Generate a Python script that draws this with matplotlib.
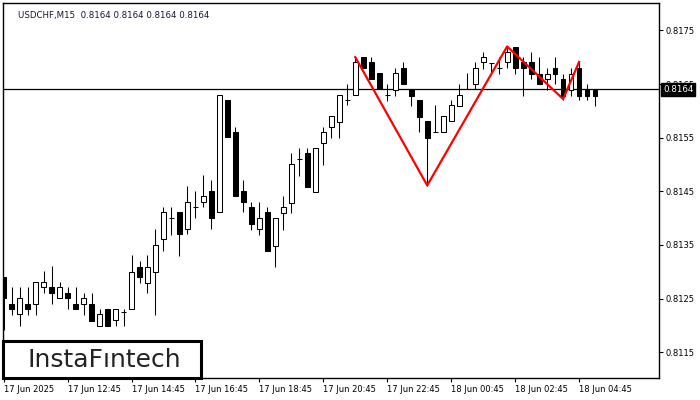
import numpy as np
import matplotlib.pyplot as plt
from matplotlib.patches import Rectangle

# USDCHF M15 candles
opens = [0.81290, 0.81240, 0.81221, 0.81240, 0.81240, 0.81271, 0.81271, 0.81251, 0.81260, 0.81240,
         0.81240, 0.81240, 0.81199, 0.81230, 0.81210, 0.81225, 0.81230, 0.81309, 0.81279, 0.81299,
         0.81361, 0.81400, 0.81411, 0.81380, 0.81421, 0.81430, 0.81451, 0.81411, 0.81620, 0.81561,
         0.81451, 0.81421, 0.81380, 0.81411, 0.81348, 0.81410, 0.81428, 0.81510, 0.81521, 0.81449,
         0.81540, 0.81570, 0.81579, 0.81620, 0.81630, 0.81701, 0.81691, 0.81671, 0.81630, 0.81639,
         0.81680, 0.81641, 0.81620, 0.81581, 0.81561, 0.81561, 0.81581, 0.81609, 0.81641, 0.81650,
         0.81691, 0.81689, 0.81680, 0.81691, 0.81719, 0.81691, 0.81691, 0.81669, 0.81660, 0.81680,
         0.81660, 0.81639, 0.81680, 0.81639, 0.81639]
highs = [0.81290, 0.81271, 0.81271, 0.81271, 0.81281, 0.81301, 0.81311, 0.81281, 0.81271, 0.81271,
         0.81260, 0.81260, 0.81230, 0.81230, 0.81230, 0.81230, 0.81331, 0.81320, 0.81331, 0.81380,
         0.81421, 0.81421, 0.81411, 0.81460, 0.81451, 0.81480, 0.81471, 0.81630, 0.81620, 0.81570,
         0.81471, 0.81430, 0.81430, 0.81421, 0.81400, 0.81441, 0.81521, 0.81531, 0.81531, 0.81531,
         0.81570, 0.81590, 0.81630, 0.81650, 0.81701, 0.81701, 0.81701, 0.81671, 0.81650, 0.81680,
         0.81691, 0.81641, 0.81620, 0.81581, 0.81611, 0.81590, 0.81620, 0.81650, 0.81671, 0.81691,
         0.81710, 0.81689, 0.81701, 0.81719, 0.81719, 0.81701, 0.81710, 0.81701, 0.81680, 0.81701,
         0.81669, 0.81680, 0.81691, 0.81650, 0.81639]
lows = [0.81191, 0.81219, 0.81199, 0.81219, 0.81219, 0.81260, 0.81240, 0.81251, 0.81230, 0.81230,
        0.81219, 0.81208, 0.81199, 0.81199, 0.81199, 0.81199, 0.81230, 0.81279, 0.81260, 0.81219,
        0.81339, 0.81368, 0.81329, 0.81370, 0.81400, 0.81421, 0.81380, 0.81411, 0.81551, 0.81441,
        0.81411, 0.81378, 0.81368, 0.81339, 0.81309, 0.81378, 0.81410, 0.81479, 0.81458, 0.81449,
        0.81499, 0.81549, 0.81549, 0.81611, 0.81630, 0.81680, 0.81660, 0.81641, 0.81618, 0.81628,
        0.81650, 0.81609, 0.81561, 0.81460, 0.81561, 0.81561, 0.81581, 0.81609, 0.81641, 0.81641,
        0.81678, 0.81669, 0.81669, 0.81680, 0.81669, 0.81628, 0.81660, 0.81650, 0.81639, 0.81650,
        0.81620, 0.81628, 0.81620, 0.81620, 0.81609]
closes = [0.81251, 0.81230, 0.81251, 0.81230, 0.81281, 0.81281, 0.81260, 0.81271, 0.81251, 0.81230,
          0.81251, 0.81208, 0.81221, 0.81199, 0.81230, 0.81225, 0.81299, 0.81290, 0.81309, 0.81350,
          0.81411, 0.81400, 0.81370, 0.81430, 0.81421, 0.81441, 0.81400, 0.81630, 0.81551, 0.81441,
          0.81430, 0.81389, 0.81400, 0.81339, 0.81400, 0.81421, 0.81501, 0.81510, 0.81458, 0.81531,
          0.81561, 0.81590, 0.81630, 0.81620, 0.81691, 0.81680, 0.81660, 0.81641, 0.81630, 0.81671,
          0.81650, 0.81628, 0.81589, 0.81549, 0.81561, 0.81590, 0.81611, 0.81630, 0.81641, 0.81680,
          0.81701, 0.81689, 0.81680, 0.81710, 0.81680, 0.81680, 0.81669, 0.81650, 0.81669, 0.81669,
          0.81628, 0.81669, 0.81628, 0.81628, 0.81628]

# double top pattern outline (bar index, price)
pattern_idx = [44, 53, 63, 70, 72]
pattern_px = [0.81700, 0.81461, 0.81720, 0.81622, 0.81691]

bid = 0.8164
ytick_vals = [0.8115, 0.8125, 0.8135, 0.8145, 0.8155, 0.8165, 0.8175]
xtick_idx = [0, 8, 16, 24, 32, 40, 48, 56, 64, 72]
xtick_labels = ['17 Jun 2025', '17 Jun 12:45', '17 Jun 14:45', '17 Jun 16:45', '17 Jun 18:45',
                '17 Jun 20:45', '17 Jun 22:45', '18 Jun 00:45', '18 Jun 02:45', '18 Jun 04:45']

fig = plt.figure(figsize=(7, 4), dpi=100)
ax = fig.add_axes([3/700, 22/400, 656/700, 375/400])

n = len(opens)
x = np.arange(n)
o = np.array(opens); h = np.array(highs); l = np.array(lows); c = np.array(closes)

lw = 0.75
ax.vlines(x, l, h, color='black', linewidth=lw, zorder=2)
w = 0.6
for i in range(n):
    up = c[i] >= o[i]
    bottom = min(o[i], c[i])
    height = abs(c[i] - o[i])
    if height < 1e-6:
        ax.hlines(o[i], i - w/2, i + w/2, color='black', linewidth=lw, zorder=3)
        continue
    ax.add_patch(Rectangle((i - w/2, bottom), w, height,
                           facecolor='white' if up else 'black',
                           edgecolor='black', linewidth=lw, zorder=3))

ax.plot(pattern_idx, pattern_px, color='#ff0000', linewidth=1.6, zorder=4)
ax.axhline(bid, color='black', linewidth=0.9, zorder=1)

ax.set_xlim(-0.08, 82)
ax.set_ylim(0.81102, 0.81801)

ax.yaxis.tick_right()
ax.set_yticks(ytick_vals)
ax.set_yticklabels(['%.4f' % v for v in ytick_vals])
ax.set_xticks(xtick_idx)
ax.set_xticklabels(xtick_labels, ha='left')
ax.tick_params(axis='both', length=3, width=0.8, labelsize=6, pad=2)
for sp in ax.spines.values():
    sp.set_linewidth(1)

# current price tag on the axis
ax.text(1.006, bid, '0.8164', transform=ax.get_yaxis_transform(), ha='left', va='center',
        fontsize=6.3, color='white', zorder=6,
        bbox=dict(boxstyle='square,pad=0.25', facecolor='black', edgecolor='black'))

ax.text(0.023, 0.978, 'USDCHF,M15  0.8164 0.8164 0.8164 0.8164', transform=ax.transAxes,
        ha='left', va='top', fontsize=6.2, color='#141432')

# logo box
ax.add_patch(Rectangle((0, 0), 198/656, 37/375, transform=ax.transAxes, facecolor='white',
                       edgecolor='black', linewidth=2.2, zorder=7, clip_on=False))
ax.text(101/656, 18/375, 'InstaF\u0131ntech', transform=ax.transAxes, ha='center', va='center',
        fontsize=18, fontweight='medium', color='#222222', zorder=8)

fig.savefig('out.png', dpi=100)
